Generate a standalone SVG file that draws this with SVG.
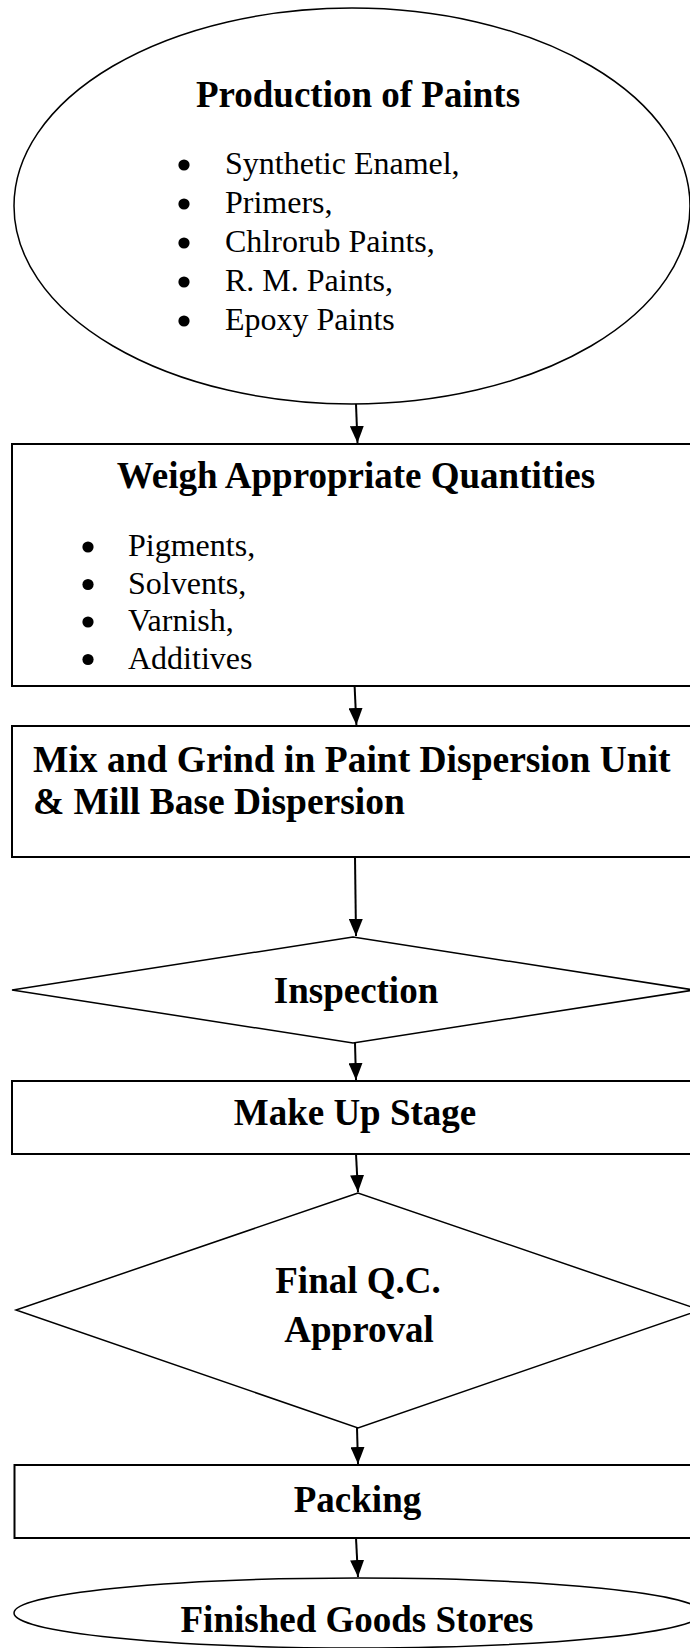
<svg xmlns="http://www.w3.org/2000/svg" width="690" height="1648" viewBox="0 0 690 1648">
<style>
.shape{fill:#fff;stroke:#000;}
.ell{stroke-width:1.5;}
.box{stroke-width:2;}
.dia{stroke-width:1.5;}
.t{font-family:"Liberation Serif","Times New Roman",serif;fill:#000;}
.b{font-weight:bold;font-size:37px;text-anchor:middle;}
.li{font-size:32px;}
.dot{fill:#000;}
.conn line{stroke:#000;stroke-width:2;}
</style>
<defs>
<marker id="ah" markerWidth="17" markerHeight="14" refX="17" refY="7" orient="auto" markerUnits="userSpaceOnUse" viewBox="0 0 17 14">
<path d="M0,0 L17,7 L0,14 Z" fill="#000"/>
</marker>
</defs>
<rect width="690" height="1648" fill="#fff"/>
<g id="production">
<ellipse class="shape ell" cx="352" cy="206" rx="338" ry="198"/>
<text class="t b" x="358" y="107">Production of Paints</text>
<g class="dot">
<circle cx="184" cy="165" r="5.6"/>
<circle cx="184" cy="204" r="5.6"/>
<circle cx="184" cy="243" r="5.6"/>
<circle cx="184" cy="282" r="5.6"/>
<circle cx="184" cy="321" r="5.6"/>
</g>
<g class="t li">
<text x="225" y="174">Synthetic Enamel,</text>
<text x="225" y="213">Primers,</text>
<text x="225" y="252">Chlrorub Paints,</text>
<text x="225" y="291">R. M. Paints,</text>
<text x="225" y="330">Epoxy Paints</text>
</g>
</g>
<g id="weigh">
<rect class="shape box" x="12" y="444" width="690" height="242"/>
<text class="t b" x="356" y="488">Weigh Appropriate Quantities</text>
<g class="dot">
<circle cx="88" cy="547" r="5.6"/>
<circle cx="88" cy="584.5" r="5.6"/>
<circle cx="88" cy="622" r="5.6"/>
<circle cx="88" cy="659.5" r="5.6"/>
</g>
<g class="t li">
<text x="128" y="556">Pigments,</text>
<text x="128" y="593.5">Solvents,</text>
<text x="128" y="631">Varnish,</text>
<text x="128" y="668.5">Additives</text>
</g>
</g>
<g id="mix">
<rect class="shape box" x="12" y="726" width="690" height="131"/>
<text class="t" style="font-weight:bold;font-size:37.5px" x="33" y="772">Mix and Grind in Paint Dispersion Unit</text>
<text class="t" style="font-weight:bold;font-size:37.5px" x="33" y="814">&amp; Mill Base Dispersion</text>
</g>
<g id="inspection">
<polygon class="shape dia" points="353,937 12,990 353,1043 694,990"/>
<text class="t b" x="356" y="1003">Inspection</text>
</g>
<g id="makeup">
<rect class="shape box" x="12" y="1081" width="690" height="73"/>
<text class="t b" x="355" y="1125">Make Up Stage</text>
</g>
<g id="finalqc">
<polygon class="shape dia" points="358,1193 16,1310 358,1428 700,1310"/>
<text class="t b" x="358" y="1293">Final Q.C.</text>
<text class="t b" x="359" y="1342">Approval</text>
</g>
<g id="packing">
<rect class="shape box" x="14.5" y="1465" width="690" height="73"/>
<text class="t b" x="357.5" y="1512">Packing</text>
</g>
<g id="finished">
<ellipse class="shape ell" cx="358" cy="1613" rx="344" ry="35"/>
<text class="t b" x="357" y="1632">Finished Goods Stores</text>
</g>
<g class="conn">
<line x1="356" y1="404" x2="357.5" y2="443" marker-end="url(#ah)"/>
<line x1="354.6" y1="686" x2="356.4" y2="725" marker-end="url(#ah)"/>
<line x1="355" y1="857" x2="356" y2="936" marker-end="url(#ah)"/>
<line x1="355" y1="1043" x2="356" y2="1080" marker-end="url(#ah)"/>
<line x1="356" y1="1154" x2="358" y2="1192" marker-end="url(#ah)"/>
<line x1="357" y1="1428" x2="358" y2="1464" marker-end="url(#ah)"/>
<line x1="356" y1="1538" x2="358" y2="1577" marker-end="url(#ah)"/>
</g>
</svg>
